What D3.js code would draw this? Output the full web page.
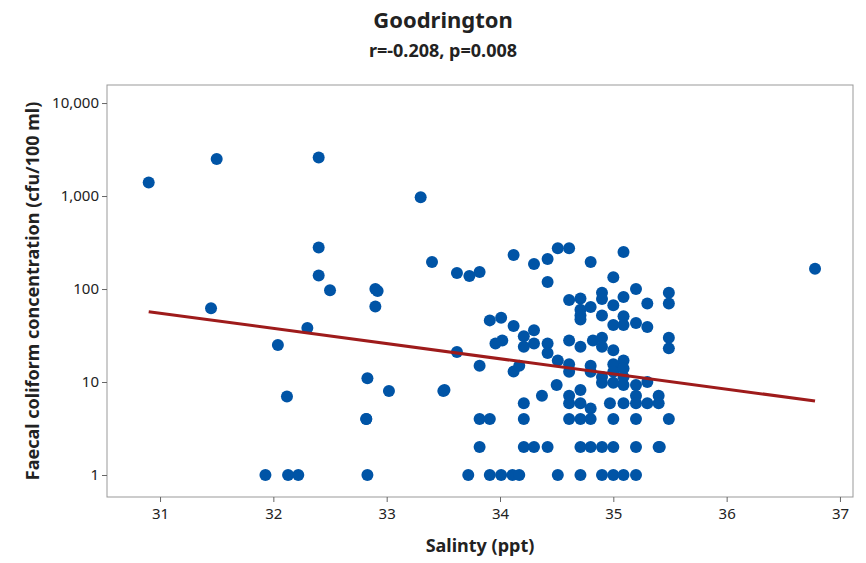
<!DOCTYPE html>
<html><head><meta charset="utf-8">
<script src="https://cdn.jsdelivr.net/npm/d3@7"></script>
<style>body{margin:0;background:#fff;font-family:"Noto Sans",sans-serif;}</style>
</head><body>
<svg id="chart" width="866" height="563"></svg>
<script>
// salinity (ppt) and faecal coliform (cfu/100 ml)
const salinity = [30.9,31.5,31.45,32.04,32.12,32.3,32.4,32.4,32.4,32.5,32.9,32.92,32.9,32.83,32.82,33.02,33.3,33.4,33.5,36.78,
  33.62,33.73,33.82,34.12,34.3,34.42,34.42,34.51,34.61,34.8,35.09,35.0,34.9,34.9,35.09,35.2,35.3,35.49,35.49,
  34.61,34.71,34.71,34.71,34.71,34.8,35.0,34.9,35.09,35.09,35.0,35.2,35.3,
  33.91,34.01,34.12,34.3,34.21,34.21,33.96,34.02,34.3,34.42,34.42,34.61,34.71,34.82,34.9,34.9,35.0,35.49,35.49,
  33.62,33.82,34.12,34.17,34.51,34.61,34.61,34.8,34.8,35.0,35.0,35.09,35.09,35.09,35.09,34.9,34.9,35.0,35.2,35.3,
  33.51,34.5,34.37,34.71,34.21,34.61,34.61,34.71,34.8,34.97,35.09,35.2,35.2,35.3,35.4,35.4,
  32.82,33.82,33.91,34.21,34.61,34.71,34.8,35.0,35.2,35.49,
  33.82,34.21,34.3,34.42,34.71,34.8,34.9,35.0,35.2,35.4,35.41,
  31.93,32.13,32.22,32.83,33.72,33.91,34.01,34.11,34.17,34.51,34.71,34.9,35.0,35.09,35.2];
const coliform = [1400,2500,62,25,7,38,2600,280,140,97,100,95,65,11,4,8,970,195,8,165,
  149,138,152,232,186,210,119,275,275,195,250,134,91,78,82,100,70,91,70,
  76,79,60,52,47,64,67,52,51,41,41,43,39,
  46,49,40,36,31,24,26,28,26,26,20.5,28,24,28,30,24,22,30,23,
  21,15,13,15,17,15.5,12.9,15,12.9,15.5,12.9,17,14,11.3,9.3,11.3,9.8,9.8,9.3,10,
  8.2,9.3,7.1,8.2,5.9,7.1,5.9,5.9,5.2,5.9,5.9,7.1,5.9,5.9,7.1,5.9,
  4,4,4,4,4,4,4,4,4,4,
  2,2,2,2,2,2,2,2,2,2,2,
  1,1,1,1,1,1,1,1,1,1,1,1,1,1,1];
const fitX = [30.9, 36.78];
const fitY = [57, 6.25];
const xTicks = [31,32,33,34,35,36,37];
const yTicks = [1,10,100,1000,10000];

const svg = d3.select('#chart');
const pL = 107, pR = 853, pT = 85, pB = 497;

const x = d3.scaleLinear().domain([30.532, 37.115]).range([pL, pR]);
const y = d3.scaleLog().domain([0.58, 15630]).range([pB, pT]);

svg.append('rect').attr('x', pL).attr('y', pT)
  .attr('width', pR-pL).attr('height', pB-pT)
  .attr('fill', 'none').attr('stroke', '#999').attr('stroke-width', 1);

const gx = svg.append('g').attr('transform', `translate(0,${pB})`)
  .call(d3.axisBottom(x).tickValues(xTicks).tickSize(5).tickFormat(d3.format('d')));
const gy = svg.append('g').attr('transform', `translate(${pL},0)`)
  .call(d3.axisLeft(y).tickValues(yTicks).tickSize(5).tickFormat(d3.format(',')));
[gx, gy].forEach(g => {
  g.select('.domain').remove();
  g.selectAll('line').attr('stroke', '#666');
  g.selectAll('text').attr('font-size', 15).attr('fill', '#222').attr('font-family', '"Noto Sans",sans-serif');
});
gx.selectAll('text').attr('dy', '0.95em');

svg.append('g').selectAll('circle')
  .data(salinity.map((s, i) => [s, coliform[i]]))
  .join('circle')
  .attr('cx', d => x(d[0])).attr('cy', d => y(d[1]))
  .attr('r', 6).attr('fill', '#0054A6');

svg.append('line')
  .attr('x1', x(fitX[0])).attr('y1', y(fitY[0]))
  .attr('x2', x(fitX[1])).attr('y2', y(fitY[1]))
  .attr('stroke', '#9E1B1B').attr('stroke-width', 3);

svg.append('text').attr('x', 443).attr('y', 28).attr('text-anchor', 'middle')
  .attr('font-size', 22).attr('font-weight', 'bold').attr('fill', '#222').text('Goodrington');
svg.append('text').attr('x', 443).attr('y', 57).attr('text-anchor', 'middle')
  .attr('font-size', 18).attr('font-weight', 'bold').attr('fill', '#222').text('r=-0.208, p=0.008');
svg.append('text').attr('x', 480).attr('y', 552).attr('text-anchor', 'middle')
  .attr('font-size', 18).attr('font-weight', 'bold').attr('fill', '#222').text('Salinty (ppt)');
svg.append('text').attr('transform', 'translate(39,291) rotate(-90)').attr('text-anchor', 'middle')
  .attr('font-size', 18).attr('font-weight', 'bold').attr('fill', '#222').text('Faecal coliform concentration (cfu/100 ml)');
</script>
</body></html>
